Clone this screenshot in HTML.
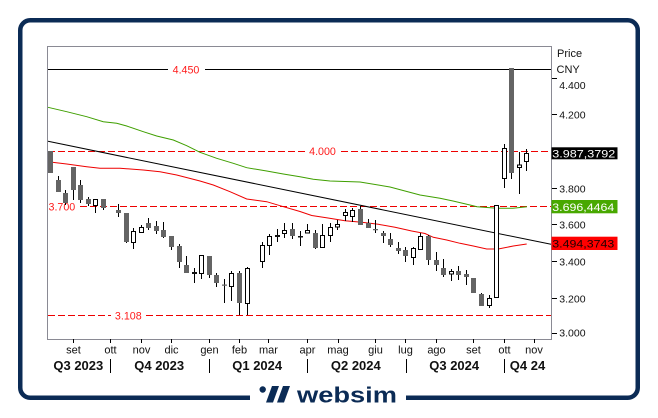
<!DOCTYPE html>
<html><head><meta charset="utf-8"><style>
html,body{margin:0;padding:0;background:#fff;}
svg{display:block;font-family:"Liberation Sans",Arial,sans-serif;}
</style></head><body>
<svg width="658" height="418" viewBox="0 0 658 418" xmlns="http://www.w3.org/2000/svg">
<rect width="658" height="418" fill="#fff"/>
<rect x="20.25" y="20.25" width="617.5" height="377.5" rx="10" ry="10" fill="none" stroke="#0b2b55" stroke-width="4.5"/>
<rect x="250" y="390" width="156" height="16" fill="#fff"/>
<circle cx="262.7" cy="389.5" r="3.2" fill="#0b2b55"/>
<path d="M272 386h7l-6 16.5h-7zM283 386h7l-6 16.5h-7z" fill="#0b2b55"/>
<text x="297" y="402.5" font-size="22" font-weight="bold" fill="#0b2b55" textLength="100" lengthAdjust="spacingAndGlyphs">websim</text>

<rect x="47.5" y="46.5" width="504" height="293" fill="none" stroke="#8a8a94" stroke-width="1"/>

<path d="M48 69.5H168M205 69.5H551" stroke="#000" stroke-width="1"/>
<path d="M48 151.5H305M341 151.5H551M80 206.5H551M48 315.5H111M146 315.5H551" stroke="#ee0000" stroke-width="1" stroke-dasharray="7,3" fill="none"/>
<g font-size="10.7" fill="#ff1a1a">
<text x="186" y="73.5" text-anchor="middle">4.450</text>
<text x="322.5" y="155.2" text-anchor="middle">4.000</text>
<text x="48.5" y="210.5">3.700</text>
<text x="128.3" y="319.3" text-anchor="middle">3.108</text>
</g>

<polyline fill="none" stroke="#3f9f00" stroke-width="1" points="48,107.3 66.7,111.7 86.7,116.7 103.3,121.7 116.7,123.3 126.7,126 143.3,131.7 156.7,136 173.3,140 186.7,145.7 200,152.3 216.7,158.3 233.3,163.3 246.7,167.7 266.7,171 283.3,174 300,176.7 313.3,179.3 330,181 360,182 390,187 420,195 440,198.3 453,201 470,205 477,206.7 497,208.3 513,208.3 527,206.7"/>
<polyline fill="none" stroke="#ee0000" stroke-width="1" points="48,161.7 66.7,164 86.7,166.7 100,168.3 120,168.3 143.3,170 160,171.7 176.7,175 200,181 213.3,185 230,191.7 246.7,199 266.7,201.7 280,205.7 300,211.5 311.7,215.5 328,218 345,220.7 361.7,222.3 378.3,224.3 395,227.3 411.7,231 425,233.5 433.3,237.3 446.7,240 460,243.3 473.3,246 486.7,249 498.3,249 513.3,246 526.7,244"/>
<path d="M48 141.3L551 244.3" stroke="#000" stroke-width="1"/>

<path stroke="#000" stroke-width="1" fill="none" d="M58.5 176V192M65.5 190V205M73.5 167V200M80.5 180V203M88.5 197V206M95.5 199V213M103.5 199V210M118.5 204V217M126.5 213V243M133.5 228V249M141.5 225V233M148.5 218V230M156.5 221V234M163.5 222V238M171.5 236V250M179.5 244V268M186.5 256V273M194.5 268V283M201.5 255V279M209.5 256V278M216.5 273V287M224.5 279V303M231.5 271V301M239.5 271V315M247.5 267V315M262.5 242V268M269.5 234V255M277.5 229V242M284.5 223V238M292.5 223V239M300.5 231V246M307.5 224V233M315.5 230V249M322.5 224V248M330.5 223V242M337.5 220V230M345.5 209V221M352.5 208V222M360.5 206V225M368.5 219V228M375.5 220V233M383.5 231V243M390.5 233V247M398.5 242V254M405.5 247V262M413.5 247V265M420.5 233V250M428.5 235V265M436.5 252V271M443.5 259V277M451.5 269V281M458.5 266V280M466.5 270V285M481.5 293V306M489.5 295V308M504.5 144V188M511.5 68V179M519.5 152V194M526.5 149V171"/>

<path fill="#646464" d="M48 151h5v22h-5zM56 180h5v12h-5zM63 193h5v10h-5zM71 167h5v23h-5zM78 185h5v15h-5zM86 199h5v5h-5zM101 199h5v9h-5zM116 210h5v3h-5zM124 213h5v29h-5zM146 223h5v5h-5zM154 226h5v5h-5zM161 230h5v7h-5zM169 236h5v11h-5zM177 246h5v16h-5zM184 265h5v8h-5zM207 256h5v19h-5zM214 275h5v8h-5zM237 273h5v30h-5zM290 229h5v7h-5zM313 233h5v15h-5zM358 209h5v16h-5zM366 223h5v5h-5zM381 233h5v3h-5zM388 239h5v6h-5zM396 248h5v3h-5zM403 250h5v6h-5zM426 236h5v24h-5zM434 260h5v5h-5zM441 268h5v7h-5zM456 271h5v4h-5zM464 274h5v3h-5zM471 278h5v15h-5zM479 294h5v12h-5zM509 68h5v105h-5zM222 284.5h5v1.3h-5zM373 229h5v1.3h-5z"/>
<path fill="#111" d="M192 272h5v2h-5zM275 235h5v2h-5zM298 236h5v1.5h-5z"/>
<path fill="#fff" stroke="#000" stroke-width="1" d="M93.5 199.5h4v6h-4zM131.5 231.5h4v11h-4zM139.5 227.5h4v5h-4zM199.5 255.5h4v18h-4zM229.5 273.5h4v13h-4zM245.5 268.5h4v35h-4zM260.5 245.5h4v16h-4zM267.5 236.5h4v9h-4zM282.5 230.5h4v3h-4zM305.5 230.5h4v2.5h-4zM320.5 235.5h4v12h-4zM328.5 227.5h4v8h-4zM335.5 224.5h4v2.5h-4zM343.5 212.5h4v3h-4zM350.5 210.5h4v6h-4zM411.5 248.5h4v9h-4zM418.5 236.5h4v13h-4zM449.5 271.5h4v2.5h-4zM487.5 298.5h4v7h-4zM494.5 205.5h4v92h-4zM502.5 148.5h4v30h-4zM517.5 165h4v2.5h-4zM524.5 153.5h4v8h-4z"/>

<text x="557" y="57" font-size="11" fill="#111">Price</text>
<text x="556.5" y="73" font-size="11" fill="#111">CNY</text>
<path stroke="#000" stroke-width="1" d="M552 78.5h5M552 114.5h5M552 188.5h5M552 224.5h5M552 261.5h5M552 298.5h5M552 333.5h5"/>
<g font-size="10.5" fill="#111">
<text x="559.3" y="89">4.400</text>
<text x="559.3" y="118.3">4.200</text>
<text x="559.3" y="192.3">3.800</text>
<text x="559.3" y="228.3">3.600</text>
<text x="559.3" y="265.3">3.400</text>
<text x="559.3" y="302.3">3.200</text>
<text x="559.3" y="336.5">3.000</text>
</g>
<rect x="551.5" y="147.3" width="66" height="12" fill="#000"/>
<text x="552.3" y="157.3" font-size="11" fill="#fff" textLength="63" lengthAdjust="spacingAndGlyphs">3.987,3792</text>
<rect x="551.5" y="200" width="66" height="13.3" fill="#48a800"/>
<text x="552.3" y="210.8" font-size="11" fill="#fff" textLength="62" lengthAdjust="spacingAndGlyphs">3.696,4464</text>
<rect x="551.5" y="236.7" width="66" height="13.3" fill="#ff0000"/>
<text x="552.3" y="247.5" font-size="11" fill="#200000" textLength="62" lengthAdjust="spacingAndGlyphs">3.494,3743</text>

<path stroke="#000" stroke-width="1" d="M73.5 339v4M110.5 339v4M141.5 339v4M171.5 339v4M209.5 339v4M239.5 339v4M268.5 339v4M307.5 339v4M338.5 339v4M375.5 339v4M405.5 339v4M436.5 339v4M473.5 339v4M504.5 339v4M534.5 339v4M110.5 359v14M209.5 359v14M307.5 359v14M406.5 359v14M504.5 359v14"/>
<g font-size="11" fill="#111" text-anchor="middle">
<text x="73.5" y="353.5">set</text>
<text x="110.5" y="353.5">ott</text>
<text x="141.5" y="353.5">nov</text>
<text x="171.5" y="353.5">dic</text>
<text x="209.5" y="353.5">gen</text>
<text x="239.5" y="353.5">feb</text>
<text x="268.5" y="353.5">mar</text>
<text x="307.5" y="353.5">apr</text>
<text x="338" y="353.5">mag</text>
<text x="375.5" y="353.5">giu</text>
<text x="405.5" y="353.5">lug</text>
<text x="436.5" y="353.5">ago</text>
<text x="473.5" y="353.5">set</text>
<text x="504.5" y="353.5">ott</text>
<text x="534" y="353.5">nov</text>
</g>
<g font-size="13" font-weight="bold" fill="#111" text-anchor="middle">
<text x="78.3" y="370">Q3 2023</text>
<text x="159.2" y="370">Q4 2023</text>
<text x="257.2" y="370">Q1 2024</text>
<text x="355.8" y="370">Q2 2024</text>
<text x="454.2" y="370">Q3 2024</text>
<text x="527.5" y="370">Q4 24</text>
</g>
</svg>
</body></html>
